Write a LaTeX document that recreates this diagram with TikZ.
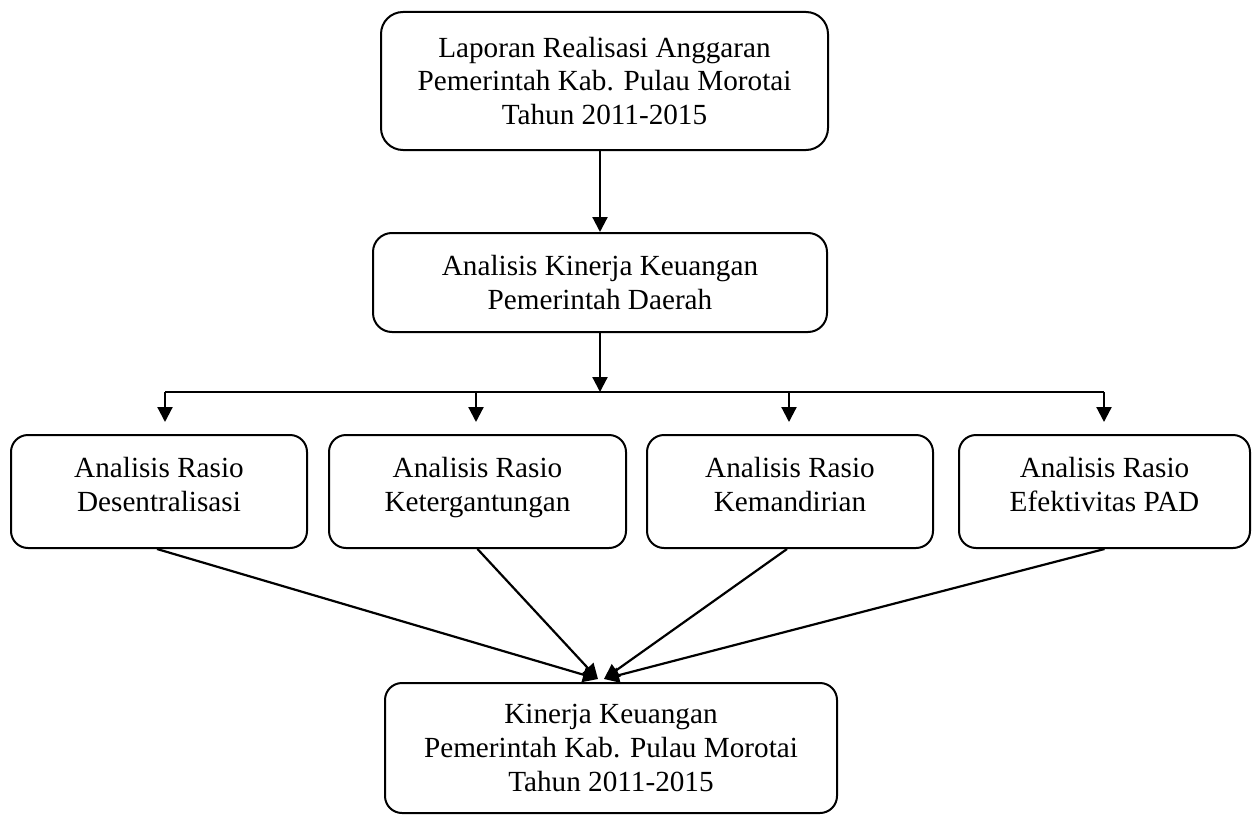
\documentclass[tikz,border=0pt]{standalone}
\usepackage{fontspec}
\setmainfont{Liberation Serif}
\usetikzlibrary{arrows.meta}
\newcommand{\lowpad}{\rule[-14pt]{0pt}{1pt}}
\begin{document}
\begin{tikzpicture}[x=1pt,y=-1pt,
  box/.style={draw=black,line width=2pt,rounded corners=17pt,align=center,inner sep=0pt,
    font=\fontsize{29.2}{33.6}\selectfont},
  arr/.style={line width=2.2pt,-{Triangle[length=15pt,width=15pt]}},
  ln/.style={line width=2.2pt}]
\useasboundingbox (0,0) rectangle (1255,816);
\node[box,rounded corners=22pt,minimum width=447pt,minimum height=138pt] (top) at (604.5,81)
  {Laporan Realisasi Anggaran\\Pemerintah Kab. Pulau Morotai\\Tahun 2011-2015};
\node[box,rounded corners=19pt,minimum width=454pt,minimum height=99pt] (mid) at (600,282.5)
  {Analisis Kinerja Keuangan\\Pemerintah Daerah};
\node[box,minimum width=296pt,minimum height=113pt] (r1) at (159,491.5)
  {Analisis Rasio\\Desentralisasi\lowpad};
\node[box,minimum width=297pt,minimum height=113pt] (r2) at (477.5,491.5)
  {Analisis Rasio\\Ketergantungan\lowpad};
\node[box,minimum width=286pt,minimum height=113pt] (r3) at (790,491.5)
  {Analisis Rasio\\Kemandirian\lowpad};
\node[box,minimum width=291pt,minimum height=113pt] (r4) at (1104.5,491.5)
  {Analisis Rasio\\Efektivitas PAD\lowpad};
\node[box,minimum width=452pt,minimum height=130pt] (bot) at (611,748)
  {Kinerja Keuangan\\Pemerintah Kab. Pulau Morotai\\Tahun 2011-2015};
\coordinate (bus) at (600,392);
\coordinate (bl) at (165,392);
\coordinate (br) at (1104,392);
\coordinate (b2) at (476,392);
\coordinate (b3) at (789,392);
\coordinate (tl) at (598,679);
\coordinate (tr) at (604,679);
\draw[arr] (mid.north |- top.south) -- (mid.north);
\draw[arr] (mid.south) -- (bus);
\draw[ln] (bl) -- (br);
\draw[arr] (bl) -- ++(0,30);
\draw[arr] (b2) -- ++(0,30);
\draw[arr] (b3) -- ++(0,30);
\draw[arr] (br) -- ++(0,30);
\draw[arr] ([xshift=-2pt]r1.south) -- (tl);
\draw[arr] (r2.south) -- (tl);
\draw[arr] ([xshift=-3pt]r3.south) -- (tr);
\draw[arr] (r4.south) -- (tr);
\end{tikzpicture}
\end{document}
